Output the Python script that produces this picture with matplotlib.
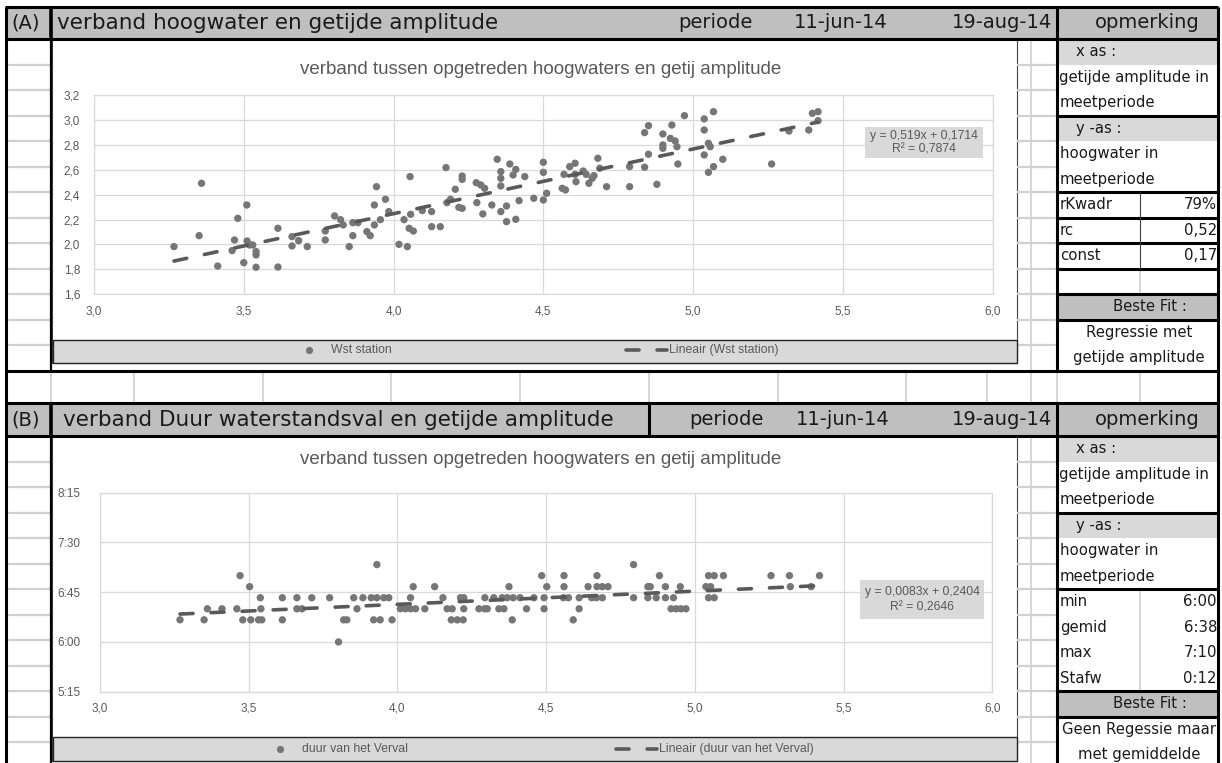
import numpy as np
import matplotlib.pyplot as plt
from matplotlib.patches import Rectangle
from matplotlib.ticker import FixedLocator, FuncFormatter

# ---- data (A): getijde amplitude [m] vs hoogwater [m]
amp_a = [3.267, 3.351, 3.359, 3.413, 3.461, 3.469, 3.480, 3.500, 3.510, 3.511,
         3.519, 3.530, 3.541, 3.541, 3.541, 3.614, 3.614, 3.661, 3.661, 3.683,
         3.712, 3.772, 3.772, 3.803, 3.823, 3.832, 3.852, 3.864, 3.864, 3.881,
         3.911, 3.922, 3.936, 3.943, 3.936, 3.956, 3.973, 3.984, 4.018, 4.035,
         4.046, 4.052, 4.055, 4.057, 4.066, 4.096, 4.127, 4.127, 4.156, 4.175,
         4.178, 4.190, 4.206, 4.218, 4.229, 4.229, 4.229, 4.276, 4.278, 4.291,
         4.298, 4.304, 4.328, 4.346, 4.358, 4.358, 4.358, 4.358, 4.377, 4.377,
         4.388, 4.399, 4.408, 4.408, 4.419, 4.438, 4.468, 4.500, 4.500, 4.500,
         4.511, 4.569, 4.563, 4.574, 4.588, 4.606, 4.606, 4.609, 4.633, 4.643,
         4.652, 4.663, 4.669, 4.682, 4.688, 4.711, 4.788, 4.788, 4.838, 4.851,
         4.879, 4.838, 4.851, 4.899, 4.899, 4.899, 4.929, 4.924, 4.940, 4.946,
         4.949, 4.971, 5.037, 5.068, 5.037, 5.051, 5.057, 5.037, 5.068, 5.051,
         5.099, 5.262, 5.320, 5.386, 5.398, 5.417, 5.417]
hw_a = [1.983, 2.071, 2.491, 1.827, 1.951, 2.036, 2.210, 1.854, 2.317, 2.028,
        1.996, 1.996, 1.943, 1.916, 1.817, 2.130, 1.819, 2.063, 1.988, 2.031,
        1.983, 2.108, 2.036, 2.229, 2.199, 2.157, 1.983, 2.071, 2.175, 2.175,
        2.103, 2.071, 2.317, 2.464, 2.157, 2.199, 2.363, 2.264, 2.001, 2.199,
        1.983, 2.130, 2.545, 2.242, 2.108, 2.272, 2.264, 2.143, 2.143, 2.617,
        2.336, 2.363, 2.443, 2.298, 2.290, 2.550, 2.523, 2.496, 2.336, 2.478,
        2.245, 2.451, 2.317, 2.684, 2.585, 2.531, 2.470, 2.264, 2.309, 2.183,
        2.646, 2.558, 2.603, 2.202, 2.352, 2.545, 2.371, 2.660, 2.579, 2.357,
        2.411, 2.563, 2.451, 2.438, 2.625, 2.652, 2.563, 2.504, 2.590, 2.563,
        2.491, 2.531, 2.553, 2.692, 2.612, 2.464, 2.625, 2.464, 2.620, 2.724,
        2.483, 2.898, 2.954, 2.887, 2.799, 2.772, 2.959, 2.852, 2.831, 2.785,
        2.646, 3.034, 3.008, 3.066, 2.919, 2.812, 2.785, 2.719, 2.625, 2.579,
        2.684, 2.646, 2.911, 2.919, 3.053, 3.066, 2.994]
trend_a = (0.519, 0.1714)
eq_a = ["y = 0,519x + 0,1714", "R² = 0,7874"]

# ---- data (B): getijde amplitude [m] vs duur van het verval [h:mm]
amp_b = [3.269, 3.350, 3.361, 3.410, 3.460, 3.471, 3.480, 3.503, 3.507, 3.533,
         3.539, 3.541, 3.544, 3.613, 3.613, 3.662, 3.662, 3.679, 3.712, 3.772,
         3.802, 3.819, 3.830, 3.853, 3.864, 3.884, 3.912, 3.920, 3.931, 3.931,
         3.942, 3.954, 3.971, 3.982, 4.010, 4.027, 4.044, 4.044, 4.053, 4.061,
         4.092, 4.125, 4.153, 4.167, 4.184, 4.181, 4.201, 4.221, 4.212, 4.223,
         4.223, 4.274, 4.293, 4.302, 4.294, 4.324, 4.341, 4.358, 4.352, 4.369,
         4.389, 4.412, 4.375, 4.386, 4.434, 4.459, 4.485, 4.493, 4.493, 4.502,
         4.560, 4.560, 4.558, 4.575, 4.591, 4.611, 4.611, 4.641, 4.653, 4.669,
         4.689, 4.671, 4.671, 4.689, 4.708, 4.794, 4.794, 4.842, 4.850, 4.842,
         4.870, 4.881, 4.901, 4.901, 4.928, 4.920, 4.937, 4.953, 4.970, 4.951,
         5.046, 5.065, 5.096, 5.037, 5.053, 5.046, 5.065, 5.256, 5.318, 5.321,
         5.419, 5.391]
duur_b = ["6:20", "6:20", "6:30", "6:30", "6:30", "7:00", "6:20", "6:50", "6:20", "6:20",
          "6:40", "6:30", "6:20", "6:40", "6:20", "6:40", "6:30", "6:30", "6:40", "6:40",
          "6:00", "6:20", "6:20", "6:40", "6:30", "6:40", "6:40", "6:20", "6:40", "7:10",
          "6:20", "6:40", "6:40", "6:20", "6:30", "6:30", "6:40", "6:30", "6:50", "6:30",
          "6:30", "6:50", "6:40", "6:30", "6:30", "6:20", "6:20", "6:20", "6:40", "6:40",
          "6:30", "6:30", "6:30", "6:30", "6:40", "6:40", "6:30", "6:30", "6:40", "6:40",
          "6:40", "6:40", "6:50", "6:20", "6:30", "6:40", "7:00", "6:40", "6:30", "6:50",
          "7:00", "6:50", "6:40", "6:40", "6:20", "6:40", "6:30", "6:50", "6:40", "6:40",
          "6:40", "7:00", "6:50", "6:50", "6:50", "7:10", "6:40", "6:50", "6:50", "6:40",
          "6:40", "7:00", "6:50", "6:40", "6:40", "6:30", "6:30", "6:30", "6:30", "6:50",
          "7:00", "7:00", "7:00", "6:50", "6:50", "6:40", "6:40", "7:00", "7:00", "6:50",
          "7:00", "6:50"]
trend_b = (0.0083, 0.2404)
eq_b = ["y = 0,0083x + 0,2404", "R² = 0,2646"]

stats_a = [("rKwadr", "79%"), ("rc", "0,52"), ("const", "0,17")]
stats_b = [("min", "6:00"), ("gemid", "6:38"), ("max", "7:10"), ("Stafw", "0:12")]

W, H = 1222, 763
CELL = ['DejaVu Sans']
CHART = ['Liberation Sans Narrow', 'Liberation Sans', 'DejaVu Sans']
DOT = '#767676'
TXT = '#595959'
GRID = '#d0d0d0'


def to_days(s):
    h, m = s.split(':')
    return (int(h) + int(m) / 60) / 24


def fmt_time(v, pos=None):
    mins = int(round(v * 24 * 60))
    return "%d:%02d" % (mins // 60, mins % 60)


def fmt_comma(v, pos=None):
    return ("%.1f" % v).replace('.', ',')


fig = plt.figure(figsize=(W / 100, H / 100), dpi=100)
bg = fig.add_axes([0, 0, 1, 1])
bg.set_xlim(0, W)
bg.set_ylim(H, 0)
bg.axis('off')

# overlay layer for the trendline labels (above the chart axes)
ov = fig.add_axes([0, 0, 1, 1], zorder=10)
ov.set_xlim(0, W)
ov.set_ylim(H, 0)
ov.axis('off')


def box(x0, y0, x1, y1, fc='none', ec='none', lw=0, z=1, ax=None):
    (ax or bg).add_patch(Rectangle((x0, y0), x1 - x0, y1 - y0, facecolor=fc,
                                   edgecolor=ec, linewidth=lw, zorder=z))


def hl(y, x0, x1, c='black', lw=2.2, z=4):
    bg.plot([x0, x1], [y, y], color=c, lw=lw, solid_capstyle='butt', zorder=z)


def vl(x, y0, y1, c='black', lw=2.2, z=4):
    bg.plot([x, x], [y0, y1], color=c, lw=lw, solid_capstyle='butt', zorder=z)


def txt(x, y, s, size=10.7, ha='left', color='#1a1a1a', fam=CELL, z=6, ax=None):
    (ax or bg).text(x, y, s, fontsize=size, ha=ha, va='center', color=color,
                    family=fam, zorder=z)


def pax(x0, y0, x1, y1):
    return fig.add_axes([x0 / W, 1 - y1 / H, (x1 - x0) / W, (y1 - y0) / H])


def section(top, hdr_bot, rows, tag, title, per_x, date_x, divider=None):
    box(5, top, 1218, hdr_bot, fc='#bfbfbf', z=1)
    hl(top, 5, 1218)
    hl(hdr_bot, 5, 1218)
    vl(51, top, hdr_bot, lw=2.6)
    vl(1057, top, rows[-1])
    if divider:
        vl(divider, top, hdr_bot)
    my = (top + hdr_bot) / 2
    txt(26, my, tag, size=14, ha='center')
    txt(title[1], my, title[0], size=15.5)
    txt(per_x, my, "periode", size=14, ha='center')
    txt(date_x, my, "11-jun-14", size=14, ha='center')
    txt(1052, my, "19-aug-14", size=14, ha='right')
    txt(1147, my, "opmerking", size=14, ha='center')
    # spreadsheet grid outside the chart
    for y in rows[1:-1]:
        hl(y, 7, 50, c=GRID, lw=1.6, z=2)
        hl(y, 1017, 1056, c=GRID, lw=1.6, z=2)
    vl(1031, hdr_bot, rows[-1], c=GRID, lw=1.2, z=2)
    vl(51, hdr_bot, rows[-1], lw=1.6)


def panel(rows, stats, fit_lines, stat_lines):
    box(1057, rows[0], 1218, rows[1], fc='#d9d9d9', z=1)
    box(1057, rows[3], 1218, rows[4], fc='#d9d9d9', z=1)
    box(1057, rows[10], 1218, rows[11], fc='#bfbfbf', z=1)
    mid = [(rows[i] + rows[i + 1]) / 2 for i in range(13)]
    txt(1076, mid[0], "x as :")
    txt(1059, mid[1], "getijde amplitude in")
    txt(1060, mid[2], "meetperiode")
    txt(1076, mid[3], "y -as :")
    txt(1060, mid[4], "hoogwater in")
    txt(1060, mid[5], "meetperiode")
    for i, (k, v) in enumerate(stats):
        txt(1060, mid[6 + i], k)
        txt(1217, mid[6 + i], v, ha='right')
    txt(1150, mid[10], "Beste Fit :", ha='center')
    txt(1139, mid[11], fit_lines[0], ha='center')
    txt(1139, mid[12], fit_lines[1], ha='center')
    for i in stat_lines:
        hl(rows[i], 1057, 1218)


rows_a = [39 + 25.5 * k for k in range(14)]
rows_b = [436 + 25.5 * k for k in range(14)]

# outer frame
vl(5.5, 7, H)
vl(1218, 7, H)

section(7, 39, rows_a, "(A)", ("verband hoogwater en getijde amplitude", 57), 715, 841)
section(403, 436, rows_b, "(B)", ("verband Duur waterstandsval en getijde amplitude", 63),
        726, 843, divider=649)

# empty row between A and B
hl(371, 5, 1218)
for x in [51, 134, 263, 391, 520, 649, 778, 906, 987, 1031, 1057, 1140]:
    vl(x, 372, 402, c=GRID, lw=1.2, z=2)

panel(rows_a, stats_a, ("Regressie met", "getijde amplitude"), [3, 6, 7, 8, 9, 10, 11])
vl(1140, rows_a[6], rows_a[9], c='#404040', lw=0.8)
vl(1140, rows_a[9], rows_a[10], c=GRID, lw=1.2, z=2)
panel(rows_b, stats_b, ("Geen Regessie maar", "met gemiddelde"), [3, 6, 10, 11])
vl(1140, rows_b[6], rows_b[10], c=GRID, lw=1.2, z=2)

# chart frames + legend bands
box(52, 39, 1017, 363, fc='white', ec='#404040', lw=0.8, z=1.5)
box(53, 340, 1017, 363, fc='#d9d9d9', ec='#262626', lw=1.0, z=3)
box(52, 436, 1017, 761, fc='white', ec='#404040', lw=0.8, z=1.5)
box(53, 737, 1017, 761, fc='#d9d9d9', ec='#262626', lw=1.0, z=3)

TITLE = "verband tussen opgetreden hoogwaters en getij amplitude"
txt(541, 70, TITLE, size=13.5, ha='center', color=TXT, fam=CHART)
txt(541, 460, TITLE, size=13.5, ha='center', color=TXT, fam=CHART)

DASH = (3.6, 5.0)


def legend(y, xdot, label1, xdash, label2):
    bg.plot([xdot], [y], 'o', ms=5.2, color=DOT, mec='none', zorder=5)
    txt(xdot + 22, y, label1, size=8.8, color=TXT, fam=CHART)
    ln, = bg.plot([xdash, xdash + 41], [y, y], color=TXT, lw=2.6, zorder=5,
                  dash_capstyle='round')
    ln.set_dashes(DASH)
    txt(xdash + 43, y, label2, size=8.8, color=TXT, fam=CHART)


legend(350, 309, "Wst station", 626, "Lineair (Wst station)")
legend(749, 280, "duur van het Verval", 616, "Lineair (duur van het Verval)")


def style(ax, ypad):
    ax.set_facecolor('none')
    for s in ax.spines.values():
        s.set_color('#d9d9d9')
        s.set_linewidth(0.9)
    ax.grid(True, color='#d9d9d9', lw=0.9)
    ax.set_axisbelow(True)
    ax.tick_params(length=0, labelsize=8.5, labelcolor=TXT, pad=8)
    ax.tick_params(axis='y', pad=ypad)
    ax.set_xlim(3, 6)
    ax.xaxis.set_major_locator(FixedLocator(np.arange(3.0, 6.01, 0.5)))
    ax.xaxis.set_major_formatter(FuncFormatter(fmt_comma))
    for lab in ax.get_xticklabels() + ax.get_yticklabels():
        lab.set_family(CHART)


def trend(ax, xs, coef):
    xt = np.array([min(xs), max(xs)])
    ln, = ax.plot(xt, coef[0] * xt + coef[1], color=TXT, lw=2.6,
                  dash_capstyle='round', zorder=4)
    ln.set_dashes(DASH)


# ---- chart A
axa = pax(94, 95, 992.7, 294.3)
axa.set_zorder(3)
axa.set_ylim(1.6, 3.2)
axa.yaxis.set_major_locator(FixedLocator(np.arange(1.6, 3.21, 0.2)))
axa.yaxis.set_major_formatter(FuncFormatter(fmt_comma))
style(axa, 10)
axa.scatter(amp_a, hw_a, s=28, color=DOT, edgecolor='none', zorder=3)
trend(axa, amp_a, trend_a)
box(865, 127, 983, 158, fc='#d9d9d9', z=2, ax=ov)
txt(924, 136.5, eq_a[0], size=8.7, ha='center', color=TXT, fam=CHART, z=3, ax=ov)
txt(924, 149, eq_a[1], size=8.7, ha='center', color=TXT, fam=CHART, z=3, ax=ov)

# ---- chart B
axb = pax(100, 492.7, 992.3, 691.7)
axb.set_zorder(3)
axb.set_ylim(to_days("5:15"), to_days("8:15"))
axb.yaxis.set_major_locator(FixedLocator([to_days(t) for t in ["5:15", "6:00", "6:45", "7:30", "8:15"]]))
axb.yaxis.set_major_formatter(FuncFormatter(fmt_time))
style(axb, 14)
axb.scatter(amp_b, [to_days(t) for t in duur_b], s=28, color=DOT,
            edgecolor='none', zorder=3)
trend(axb, amp_b, trend_b)
box(860, 580, 984, 619, fc='#d9d9d9', z=2, ax=ov)
txt(922, 592, eq_b[0], size=8.7, ha='center', color=TXT, fam=CHART, z=3, ax=ov)
txt(922, 608, eq_b[1], size=8.7, ha='center', color=TXT, fam=CHART, z=3, ax=ov)

fig.savefig('out.png', dpi=100)
